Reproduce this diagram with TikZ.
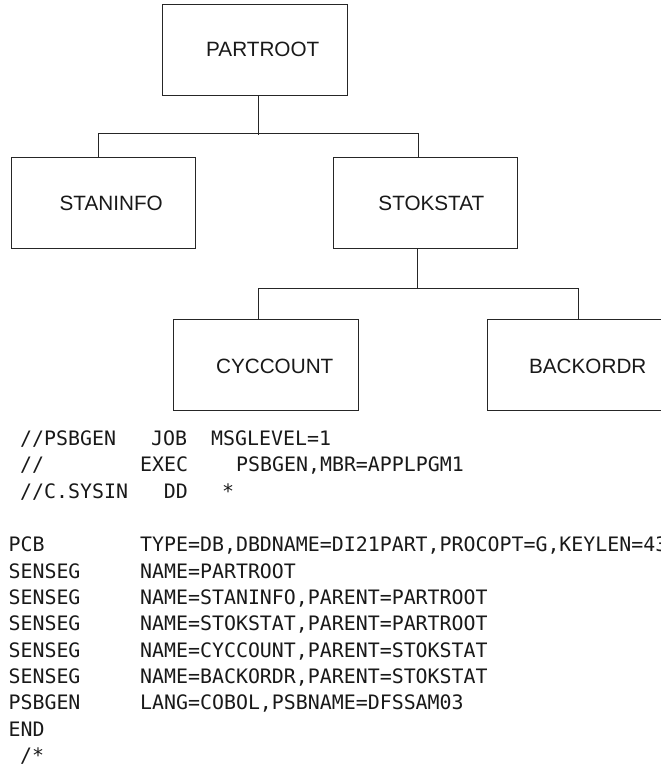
\documentclass[tikz,border=0pt]{standalone}
\usepackage{fontspec}
\setmainfont{Liberation Sans}
\newfontfamily\codefont{DejaVu Sans Mono}
\begin{document}
\begin{tikzpicture}[x=1pt,y=-1pt,
  seg/.style={draw=black!85, line width=1pt, minimum width=184.5pt, minimum height=91pt,
    inner sep=0pt, anchor=north west},
  seglabel/.style={font=\fontsize{20.7}{20.7}\selectfont, xshift=8pt, text=black!90},
  conn/.style={draw=black!85, line width=1pt},
  code/.style={font=\codefont\fontsize{19.9}{19.9}\selectfont, anchor=base west,
    inner sep=0pt, text=black!90}]
\useasboundingbox (0,0) rectangle (661,769);
\clip (0,0) rectangle (661,769);

% segment boxes
\node[seg, label={[seglabel]center:PARTROOT}] (pr) at (162,3.5) {};
\node[seg, label={[seglabel]center:STANINFO}] (si) at (10.5,157) {};
\node[seg, label={[seglabel,xshift=-2pt]center:STOKSTAT}] (ss) at (332.6,157) {};
\node[seg, label={[seglabel,xshift=1pt,yshift=-1pt]center:CYCCOUNT}] (cc) at (173,319) {};
\node[seg, label={[seglabel,yshift=-1pt]center:BACKORDR}] (bo) at (487,319) {};

% connectors
\draw[conn] ([xshift=3.35pt]pr.south) -- ++(0,39);
\draw[conn] ([xshift=-4.75pt]si.north) -- ++(0,-24) -| ([xshift=-6.85pt]ss.north);
\draw[conn] ([xshift=-7.85pt]ss.south) -- ++(0,40);
\draw[conn] ([xshift=-7pt]cc.north) -- ++(0,-31) -| ([xshift=-1.4pt]bo.north);

% JCL
\node[code] (j1a) at (20,445) {//PSBGEN};
\node[code] (j1b) at (151,445) {JOB};
\node[code] (j1c) at (211,445) {MSGLEVEL=1};
\node[code] (j2a) at (20,471.7) {//};
\node[code] (j2b) at (140,471.7) {EXEC};
\node[code] (j2c) at (236,471.7) {PSBGEN,MBR=APPLPGM1};
\node[code] (j3a) at (20,498.4) {//C.SYSIN};
\node[code] (j3b) at (163.6,498.4) {DD};
\node[code] (j3c) at (222,498.4) {*};

% PSB source
\node[code] (p1a) at (8.4,551.7) {PCB};
\node[code] (p1b) at (140,551.7) {TYPE=DB,DBDNAME=DI21PART,PROCOPT=G,KEYLEN=43};
\node[code] (p2a) at (8.4,578.1) {SENSEG};
\node[code] (p2b) at (140,578.1) {NAME=PARTROOT};
\node[code] (p3a) at (8.4,604.4) {SENSEG};
\node[code] (p3b) at (140,604.4) {NAME=STANINFO,PARENT=PARTROOT};
\node[code] (p4a) at (8.4,630.8) {SENSEG};
\node[code] (p4b) at (140,630.8) {NAME=STOKSTAT,PARENT=PARTROOT};
\node[code] (p5a) at (8.4,657.1) {SENSEG};
\node[code] (p5b) at (140,657.1) {NAME=CYCCOUNT,PARENT=STOKSTAT};
\node[code] (p6a) at (8.4,683.5) {SENSEG};
\node[code] (p6b) at (140,683.5) {NAME=BACKORDR,PARENT=STOKSTAT};
\node[code] (p7a) at (8.4,709.8) {PSBGEN};
\node[code] (p7b) at (140,709.8) {LANG=COBOL,PSBNAME=DFSSAM03};
\node[code] (p8a) at (8.4,736.2) {END};
\node[code] (p9a) at (20,762.5) {/*};
\end{tikzpicture}
\end{document}
